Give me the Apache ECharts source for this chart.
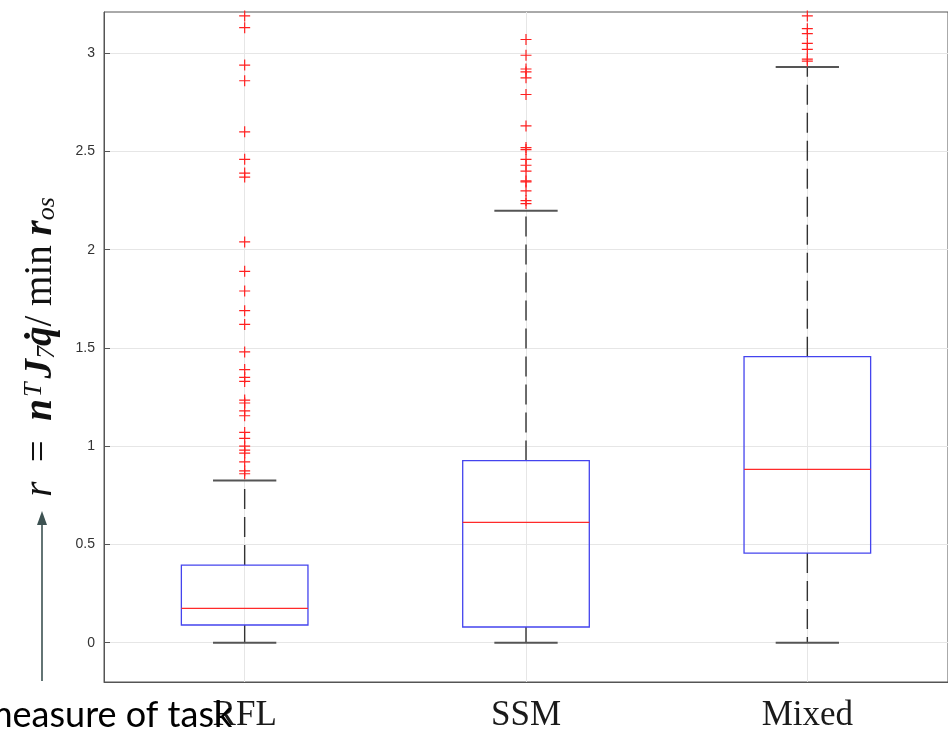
<!DOCTYPE html>
<html>
<head>
<meta charset="utf-8">
<script src="https://cdn.jsdelivr.net/npm/echarts@6/dist/echarts.min.js"></script>
<style>
html,body{margin:0;padding:0;background:#fff;}
#chart{width:948px;height:734px;}
</style>
</head>
<body>
<div id="chart"></div>
<script>
// ---- data ----
const categories = ['RFL', 'SSM', 'Mixed'];
const lowerWhisker = [0, 0, 0];
const q1 = [0.09, 0.08, 0.456];
const median = [0.175, 0.612, 0.882];
const q3 = [0.395, 0.927, 1.456];
const upperWhisker = [0.825, 2.198, 2.93];
const outliersRFL = [3.19, 3.13, 2.94, 2.86, 2.60, 2.46, 2.39, 2.37, 2.04, 1.89, 1.79, 1.69, 1.62, 1.48, 1.39, 1.35, 1.33, 1.235, 1.22, 1.18, 1.155, 1.07, 1.04, 1.00, 0.98, 0.965, 0.92, 0.875, 0.86];
const outliersSSM = [3.07, 2.99, 2.92, 2.905, 2.875, 2.79, 2.63, 2.52, 2.51, 2.46, 2.43, 2.40, 2.35, 2.345, 2.30, 2.25, 2.235];
const outliersMixed = [3.19, 3.125, 3.10, 3.05, 3.02, 2.97, 2.96];
const yTicks = [0, 0.5, 1, 1.5, 2, 2.5, 3];
const annotationText = 'measure of task';

// ---- build ----
const boxData = categories.map((c, i) => [i, lowerWhisker[i], q1[i], median[i], q3[i], upperWhisker[i]]);
const outlierData = [];
[outliersRFL, outliersSSM, outliersMixed].forEach((arr, i) => arr.forEach(v => outlierData.push([categories[i], v])));

const chart = echarts.init(document.getElementById('chart'), null, {renderer: 'canvas'});

function renderBox(params, api) {
  const idx = api.value(0);
  const band = api.size([1, 0])[0];
  const boxW = band * 0.45;
  const capW = boxW * 0.5;
  const pLow = api.coord([idx, api.value(1)]);
  const pQ1 = api.coord([idx, api.value(2)]);
  const pMed = api.coord([idx, api.value(3)]);
  const pQ3 = api.coord([idx, api.value(4)]);
  const pHigh = api.coord([idx, api.value(5)]);
  const x = pMed[0];
  const whiskerStyle = {stroke: '#333333', lineWidth: 1.4, lineDash: [20, 8]};
  const capStyle = {stroke: '#555555', lineWidth: 2};
  return {
    type: 'group',
    children: [
      {type: 'line', shape: {x1: x, y1: pQ3[1], x2: x, y2: pHigh[1]}, style: whiskerStyle},
      {type: 'line', shape: {x1: x, y1: pQ1[1], x2: x, y2: pLow[1]}, style: whiskerStyle},
      {type: 'line', shape: {x1: x - capW / 2, y1: pHigh[1], x2: x + capW / 2, y2: pHigh[1]}, style: capStyle},
      {type: 'line', shape: {x1: x - capW / 2, y1: pLow[1], x2: x + capW / 2, y2: pLow[1]}, style: capStyle},
      {type: 'rect', shape: {x: x - boxW / 2, y: pQ3[1], width: boxW, height: pQ1[1] - pQ3[1]},
        style: {fill: 'none', stroke: '#4444ee', lineWidth: 1.3}},
      {type: 'line', shape: {x1: x - boxW / 2, y1: pMed[1], x2: x + boxW / 2, y2: pMed[1]},
        style: {stroke: '#ff2a2a', lineWidth: 1.3}}
    ]
  };
}

const option = {
  backgroundColor: '#ffffff',
  animation: false,
  grid: {left: 104, top: 12, width: 849, bottom: 52, show: true, borderColor: '#555', borderWidth: 1, backgroundColor: '#fff'},
  xAxis: {
    type: 'category',
    data: categories,
    boundaryGap: true,
    axisLine: {show: true, onZero: false, lineStyle: {color: '#555', width: 1}},
    axisTick: {show: true, alignWithLabel: true, inside: true, length: 6, lineStyle: {color: '#555'}},
    axisLabel: {fontFamily: 'Liberation Serif', fontSize: 35, color: '#1a1a1a', margin: 16},
    splitLine: {show: false}
  },
  yAxis: {
    type: 'value',
    min: -0.2,
    max: 3.21,
    axisLine: {show: true, lineStyle: {color: '#555', width: 1}},
    axisTick: {show: true, inside: true, length: 6, lineStyle: {color: '#555'}, customValues: yTicks},
    axisLabel: {customValues: yTicks, formatter: v => String(v), fontFamily: 'Liberation Sans', fontSize: 14, color: '#333', margin: 9},
    splitLine: {show: true, lineStyle: {color: '#e6e6e6', width: 1}},
    name: '{i|r}{t|  =  }{b|n}{sup|T}{b|J}{sub|7}{b|q\u0307}{t|/ min }{b|r}{sub|os}',
    nameLocation: 'middle',
    nameRotate: 90,
    nameGap: 44,
    nameTextStyle: {
      rich: {
        i: {fontFamily: 'Liberation Serif', fontStyle: 'italic', fontSize: 39, color: '#111'},
        t: {fontFamily: 'Liberation Serif', fontSize: 39, color: '#111'},
        b: {fontFamily: 'Liberation Serif', fontStyle: 'italic', fontWeight: 'bold', fontSize: 39, color: '#111'},
        sup: {fontFamily: 'Liberation Serif', fontStyle: 'italic', fontSize: 26, color: '#111', verticalAlign: 'top', padding: [0, 4, 0, 2]},
        sub: {fontFamily: 'Liberation Serif', fontStyle: 'italic', fontSize: 26, color: '#111', verticalAlign: 'bottom'}
      }
    }
  },
  series: [
    {
      type: 'scatter',
      data: [],
      z: 1,
      silent: true,
      markLine: {
        z: 1,
        silent: true, symbol: 'none', label: {show: false},
        lineStyle: {color: '#e6e6e6', type: 'solid', width: 1},
        data: categories.map(c => ({xAxis: c}))
      }
    },
    {
      type: 'custom',
      z: 3,
      data: boxData,
      renderItem: renderBox,
      encode: {x: 0, y: [1, 2, 3, 4, 5]}
    },
    {
      type: 'scatter',
      z: 4,
      data: outlierData,
      symbol: 'path://M0,5L10,5M5,0L5,10',
      symbolSize: 11,
      itemStyle: {color: 'none', borderColor: '#ff2020', borderWidth: 1.2, opacity: 1}
    }
  ],
  graphic: [
    {type: 'line', shape: {x1: 42, y1: 681, x2: 42, y2: 524}, style: {stroke: '#3d5252', lineWidth: 1.6}, z: 10},
    {type: 'polygon', shape: {points: [[42, 511], [37, 525], [47, 525]]}, style: {fill: '#3d5252'}, z: 10},
    {type: 'text', left: -17, top: 697, style: {text: annotationText, fontFamily: 'Lato', fontSize: 36, fill: '#000'}, z: 10}
  ]
};
chart.setOption(option);
</script>
</body>
</html>
